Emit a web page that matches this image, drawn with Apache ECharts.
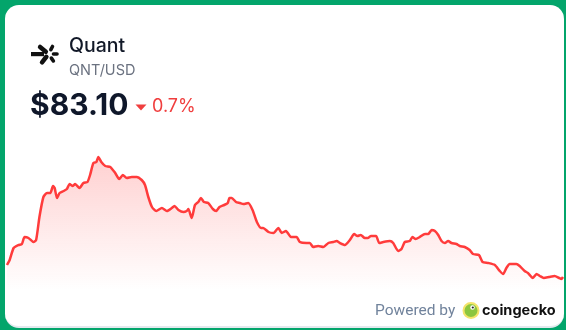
<!DOCTYPE html>
<html>
<head>
<meta charset="utf-8">
<script src="https://cdn.jsdelivr.net/npm/echarts@6/dist/echarts.min.js"></script>
<style>
html,body{margin:0;padding:0;width:566px;height:330px;overflow:hidden;background:#03a56b;}
#card{position:absolute;left:5px;top:5px;width:559px;height:321px;background:#fff;border-radius:14px;border-bottom:2px solid #e3e9ee;}
#chart{position:absolute;left:0;top:0;width:566px;height:330px;}
</style>
</head>
<body>
<div id="card"></div>
<div id="chart"></div>
<script>
// hours over the 7-day window
const hours = [0,0.8,2.0,3.5,4.5,5.3,6.5,8.0,8.8,9.8,11.0,12.1,13.1,13.9,14.4,15.1,15.9,17.1,18.1,18.9,19.9,20.6,21.9,23.1,24.3,25.1,26.1,27.0,27.6,28.5,29.7,31.2,32.7,33.9,35.0,36.2,37.7,39.2,40.7,41.7,42.7,43.8,45.1,46.8,48.3,49.8,50.6,51.8,53.3,54.3,54.8,55.8,56.8,57.8,58.6,59.5,60.8,62.2,63.2,64.2,65.6,66.7,67.2,67.9,69.2,70.4,71.4,72.9,74.2,75.5,76.8,77.4,79.0,80.5,82.0,83.0,84.3,85.8,87.5,88.5,90.5,91.5,92.5,94.0,95.6,97.1,98.6,99.6,100.6,102.1,103.6,104.9,105.9,106.9,108.1,109.0,110.0,111.5,112.5,113.7,115.7,116.7,118.2,119.2,120.2,121.7,122.5,123.5,124.7,126.3,127.3,128.3,129.3,130.3,131.3,132.3,133.3,134.3,135.8,136.8,138.3,139.8,140.8,142.6,143.7,145.4,147.4,148.9,149.9,150.9,151.9,153.9,154.9,156.4,157.4,158.9,160.0,161.0,162.2,163.8,165.5,166.8,167.5,168];
const prices = [83.70,83.95,84.55,84.70,84.75,85.10,85.05,84.85,84.95,86.10,87.10,87.30,87.30,87.65,87.55,87.05,87.30,87.40,87.50,87.75,87.65,87.75,87.55,87.80,87.85,88.20,88.80,88.85,89.10,88.85,88.65,88.60,88.30,88.00,88.20,88.05,88.10,88.10,87.95,87.70,87.10,86.60,86.40,86.55,86.40,86.55,86.65,86.45,86.35,86.40,86.50,86.05,86.70,86.85,87.05,86.85,86.80,86.50,86.40,86.60,86.70,86.80,87.05,87.05,86.85,86.80,86.75,86.80,86.45,85.85,85.55,85.55,85.35,85.30,85.55,85.30,85.40,85.10,85.10,84.85,84.80,84.80,84.60,84.65,84.60,84.80,84.85,84.90,84.80,84.70,84.95,85.25,85.15,85.20,85.05,85.05,85.15,85.15,84.80,84.85,84.90,84.80,84.40,84.50,84.85,84.90,85.10,85.00,85.10,85.25,85.25,85.45,85.40,85.20,84.90,84.80,84.90,84.80,84.75,84.65,84.60,84.45,84.25,84.20,83.85,83.80,83.70,83.40,83.25,83.55,83.75,83.75,83.65,83.40,83.30,83.05,83.25,83.15,83.05,83.10,83.15,83.05,83.00,83.10];
const coinName = 'Quant';
const pairName = 'QNT/USD';
const priceLabel = '$83.10';
const changeLabel = '0.7%';

const chart = echarts.init(document.getElementById('chart'), null, {renderer:'canvas'});
const seriesData = hours.map((h,i)=>[h, prices[i]]);
const red = '#ff3b3b';
const logoRays = [
  {a:140, r0:3.5, r1:11, w:4.5},
  {a:62, r0:5, r1:8.5, w:3.6},
  {a:0, r0:5, r1:8.5, w:3.6},
  {a:-55, r0:5, r1:8.5, w:3.6},
  {a:-128, r0:3.5, r1:10.5, w:4.5}
];
const cx = 48.5, cy = 54;
const logoEls = logoRays.map(r=>{
  const rad = r.a*Math.PI/180;
  return {type:'line', z:100, shape:{x1:cx+r.r0*Math.cos(rad), y1:cy-r.r0*Math.sin(rad), x2:cx+r.r1*Math.cos(rad), y2:cy-r.r1*Math.sin(rad)}, style:{stroke:'#111', lineWidth:r.w, lineCap:'round'}};
});
chart.setOption({
  backgroundColor:'transparent',
  animation:false,
  grid:{left:7, right:3, top:150, bottom:40},
  xAxis:{type:'value', min:0, max:168, show:false},
  yAxis:{type:'value', min:82.45, max:89.45, show:false},
  series:[{
    type:'line',
    data:seriesData,
    showSymbol:false,
    smooth:0.2,
    lineStyle:{color:red, width:2.5},
    areaStyle:{color:new echarts.graphic.LinearGradient(0,0,0,1,[{offset:0,color:'rgba(255,70,70,0.36)'},{offset:1,color:'rgba(255,70,70,0.0)'}])}
  }],
  graphic:[
    {type:'rect', z:100, shape:{x:31, y:52, width:13, height:4.2}, style:{fill:'#111'}},
    ...logoEls,
    {type:'text', z:100, style:{x:69, y:46, text:coinName, font:'500 19.5px Inter', fill:'#111827', verticalAlign:'middle'}},
    {type:'text', z:100, style:{x:69, y:71, text:pairName, font:'400 14.5px Inter', fill:'#6b7280', verticalAlign:'middle'}},
    {type:'text', z:100, style:{x:30, y:106, text:priceLabel, font:'700 30px Inter', fill:'#0f172a', verticalAlign:'middle'}},
    {type:'polygon', z:100, shape:{points:[[135.5,104.5],[146.5,104.5],[141,110.5]]}, style:{fill:'#f03e3e'}},
    {type:'text', z:100, style:{x:152, y:106.5, text:changeLabel, font:'400 18px Inter', fill:'#f03e3e', verticalAlign:'middle'}},
    {type:'text', z:100, style:{x:375, y:311, text:'Powered by', font:'400 15.5px Roboto', fill:'#71839c', verticalAlign:'middle'}},
    {type:'circle', z:100, shape:{cx:471, cy:310.5, r:7.5}, style:{fill:'#8cc63f', stroke:'#f4e46a', lineWidth:2}},
    {type:'circle', z:100, shape:{cx:472.5, cy:307.5, r:2.2}, style:{fill:'#fff'}},
    {type:'circle', z:100, shape:{cx:472.8, cy:307.5, r:1.1}, style:{fill:'#222'}},
    {type:'text', z:100, style:{x:482, y:311, text:'coingecko', font:'700 14.5px Inter', fill:'#111', verticalAlign:'middle'}}
  ]
});
</script>
</body>
</html>
